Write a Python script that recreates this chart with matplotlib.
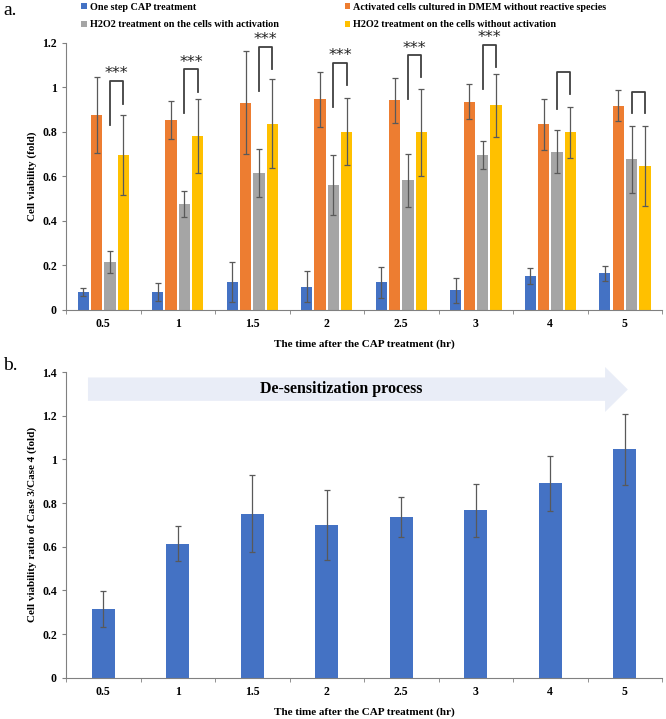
import numpy as np
import matplotlib
matplotlib.use('Agg')
import matplotlib.pyplot as plt
from matplotlib.patches import Polygon

plt.rcParams['font.family'] = ['Liberation Serif', 'DejaVu Serif']

# 데이터
times = ['0.5', '1', '1.5', '2', '2.5', '3', '4', '5']
series_names = ['One step CAP treatment',
                'Activated cells cultured in DMEM without reactive species',
                'H2O2 treatment on the cells with activation',
                'H2O2 treatment on the cells without activation']
colors = ['#4472C4', '#ED7D31', '#A5A5A5', '#FFC000']

one_step = [0.080, 0.080, 0.124, 0.104, 0.123, 0.087, 0.153, 0.164]
one_step_err = [0.018, 0.040, 0.090, 0.070, 0.070, 0.057, 0.036, 0.033]
activated = [0.876, 0.853, 0.930, 0.945, 0.940, 0.935, 0.833, 0.917]
activated_err = [0.170, 0.085, 0.230, 0.125, 0.100, 0.080, 0.115, 0.068]
h2o2_act = [0.214, 0.475, 0.613, 0.560, 0.581, 0.695, 0.709, 0.676]
h2o2_act_err = [0.050, 0.060, 0.107, 0.133, 0.120, 0.063, 0.097, 0.150]
h2o2_noact = [0.695, 0.780, 0.835, 0.800, 0.796, 0.918, 0.796, 0.647]
h2o2_noact_err = [0.180, 0.165, 0.200, 0.150, 0.195, 0.143, 0.116, 0.180]

# 괄호 (높이, 왼쪽 다리 끝, 오른쪽 다리 끝, 유의성)
bracket_top = [1.027, 1.080, 1.182, 1.110, 1.143, 1.190, 1.067, 0.980]
bracket_left = [0.830, 0.885, 0.983, 0.910, 0.947, 0.992, 0.902, 0.883]
bracket_right = [0.925, 0.980, 1.080, 1.010, 1.044, 1.092, 0.968, 0.883]
stars = ['***', '***', '***', '***', '***', '***', '', '']

ratio = [0.314, 0.613, 0.752, 0.699, 0.737, 0.766, 0.890, 1.047]
ratio_err = [0.083, 0.080, 0.178, 0.160, 0.091, 0.122, 0.125, 0.163]

values = [one_step, activated, h2o2_act, h2o2_noact]
errors = [one_step_err, activated_err, h2o2_act_err, h2o2_noact_err]

fig = plt.figure(figsize=(6.66, 7.19), dpi=100)
ax1 = fig.add_axes([0.0991, 0.5693, 0.895, 0.3715])
ax2 = fig.add_axes([0.0991, 0.0574, 0.895, 0.4252])

x = np.arange(len(times))
spacing = 0.18
width = 0.15
err_kw = dict(ecolor='#595959', elinewidth=0.9, capsize=2, capthick=0.9)

# 차트 a
for i in range(4):
    ax1.bar(x + (i - 1.5) * spacing, values[i], width, yerr=errors[i],
            color=colors[i], label=series_names[i], error_kw=err_kw)

for j in range(len(times)):
    xl = x[j] + 0.5 * spacing
    xr = x[j] + 1.5 * spacing
    ax1.plot([xl, xl, xr, xr], [bracket_left[j], bracket_top[j], bracket_top[j], bracket_right[j]],
             color='#404040', lw=1.3, clip_on=False)
    if stars[j]:
        ax1.text(x[j] + spacing, bracket_top[j] + 0.012, stars[j], ha='center', va='baseline',
                 fontsize=11.5, family='DejaVu Sans', color='#222222')

ax1.set_ylim(0, 1.2)
ax1.set_yticks([0, 0.2, 0.4, 0.6, 0.8, 1, 1.2])
ax1.set_yticklabels(['0', '0.2', '0.4', '0.6', '0.8', '1', '1.2'])
ax1.set_ylabel('Cell viability (fold)', fontsize=8, fontweight='bold')
ax1.set_xlabel('The time after the CAP treatment (hr)', fontsize=8, fontweight='bold', labelpad=7)

# 범례: 행 단위 순서 (열 우선으로 채워지므로 재배열)
handles, labels = ax1.get_legend_handles_labels()
order = [0, 2, 1, 3]
fig.legend([handles[k] for k in order], [labels[k] for k in order], ncol=2,
           loc='upper left', bbox_to_anchor=(0.108, 1.009), frameon=False,
           prop={'size': 7.3, 'weight': 'bold'}, handlelength=0.55, handleheight=0.55,
           handletextpad=0.3, columnspacing=6.5, labelspacing=0.85)

# 차트 b
ax2.bar(x, ratio, 0.31, yerr=ratio_err, color=colors[0], error_kw=err_kw)
ax2.set_ylim(0, 1.4)
ax2.set_yticks([0, 0.2, 0.4, 0.6, 0.8, 1, 1.2, 1.4])
ax2.set_yticklabels(['0', '0.2', '0.4', '0.6', '0.8', '1', '1.2', '1.4'])
ax2.set_ylabel('Cell viability ratio of Case 3/Case 4 (fold)', fontsize=8, fontweight='bold')
ax2.set_xlabel('The time after the CAP treatment (hr)', fontsize=8, fontweight='bold', labelpad=7)

arrow = Polygon([[-0.205, 1.268], [6.735, 1.268], [6.735, 1.217], [7.04, 1.32],
                 [6.735, 1.423], [6.735, 1.375], [-0.205, 1.375]],
                closed=True, facecolor='#E9EDF7', edgecolor='none', clip_on=False, zorder=0)
ax2.add_patch(arrow)
ax2.text(3.2, 1.32, 'De-sensitization process', ha='center', va='center',
         fontsize=11.5, fontweight='bold')

for ax in (ax1, ax2):
    ax.set_xlim(-0.5, len(times) - 0.5)
    ax.set_xticks(x)
    ax.set_xticklabels(times)
    ax.set_xticks(np.arange(len(times) + 1) - 0.5, minor=True)
    ax.tick_params(axis='x', which='major', length=0, labelsize=8.5, pad=6)
    ax.tick_params(axis='x', which='minor', length=3, color='#808080', direction='out')
    ax.tick_params(axis='y', length=3, color='#808080', labelsize=8.5)
    for lbl in ax.get_xticklabels() + ax.get_yticklabels():
        lbl.set_fontweight('bold')
    ax.spines['top'].set_visible(False)
    ax.spines['right'].set_visible(False)
    ax.spines['left'].set_color('#808080')
    ax.spines['bottom'].set_color('#808080')

fig.text(0.005, 0.986, 'a.', fontsize=14, va='center')
fig.text(0.005, 0.492, 'b.', fontsize=14, va='center')

fig.savefig('out.png', dpi=100)
